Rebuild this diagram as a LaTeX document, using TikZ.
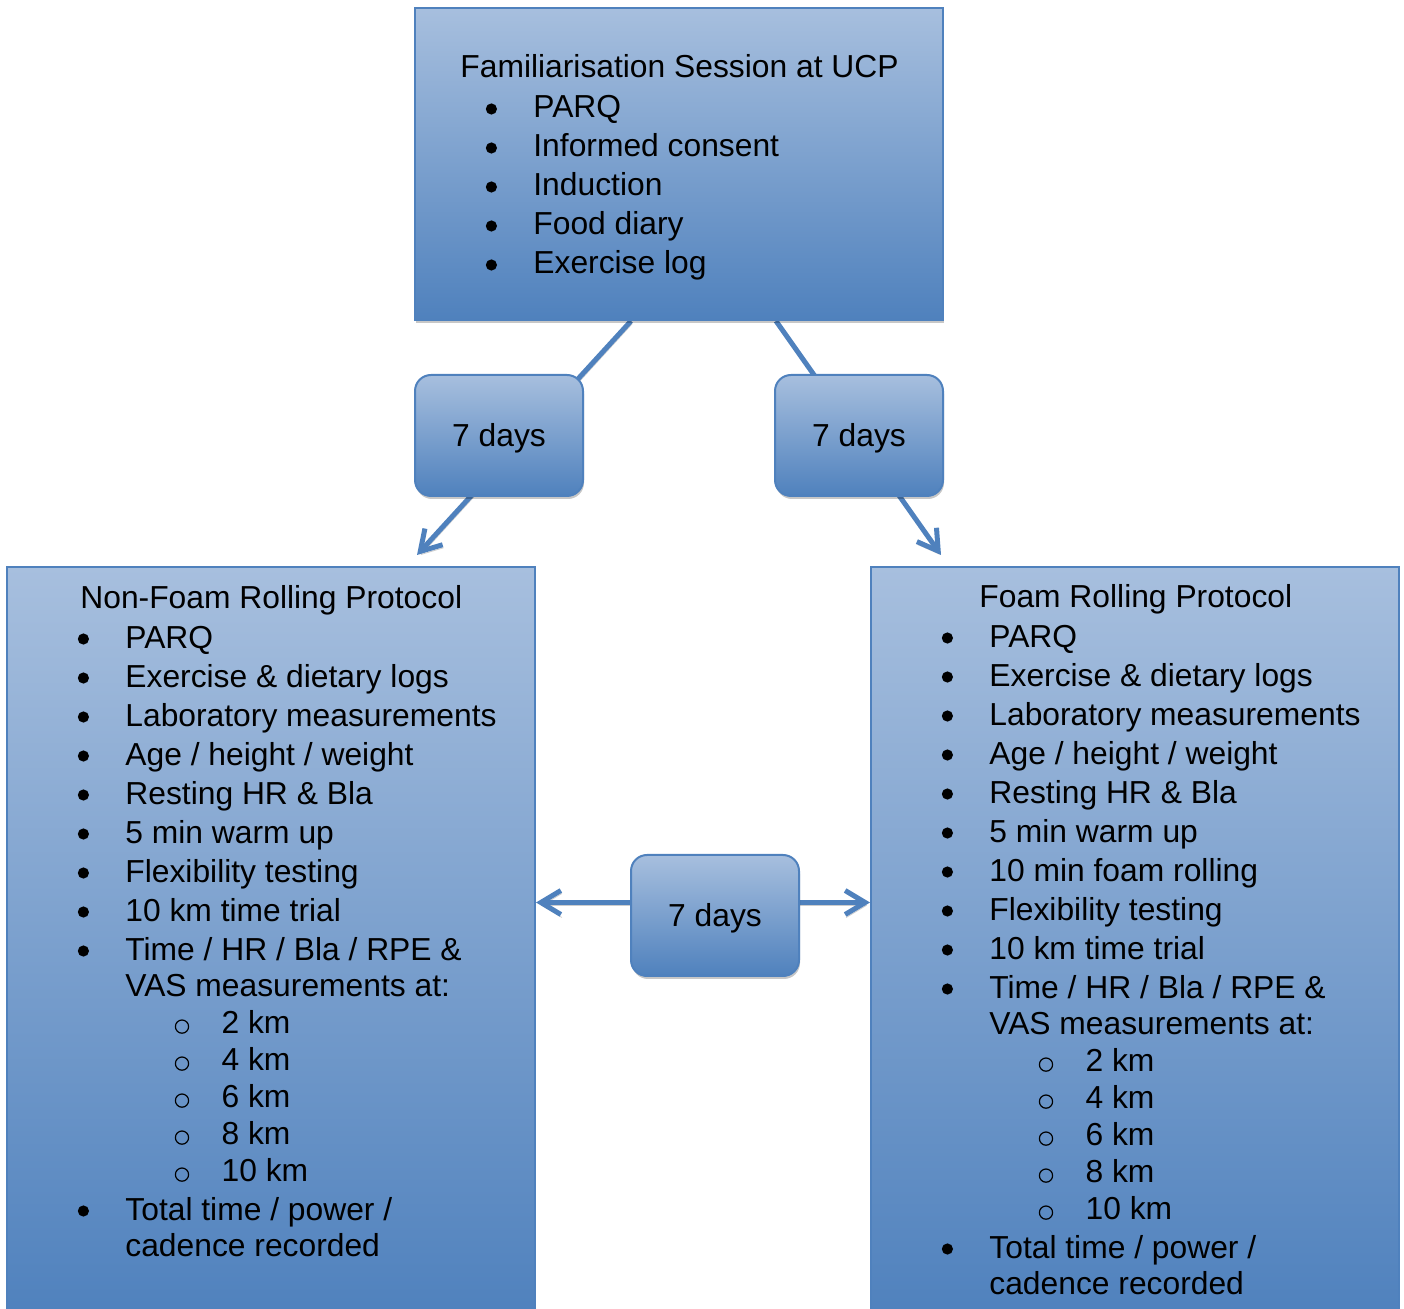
\documentclass[tikz,border=0pt]{standalone}
\usepackage{fontspec}
\setmainfont{Liberation Sans}
\usetikzlibrary{arrows.meta,calc,shadows,backgrounds}

\definecolor{paleblue}{RGB}{167,191,222}
\definecolor{deepblue}{RGB}{79,129,189}

\newcommand{\bodyfont}{\fontsize{15.9}{19.5}\selectfont}
\newcommand{\dotmark}{\llap{\tikz[baseline=0pt]\fill (0pt,4.5pt) circle (2.8pt);\hspace*{18.2pt}}}
\newcommand{\ringmark}{\hspace*{24.7pt}\tikz[baseline=0pt]\draw[line width=0.6pt] (0pt,3.2pt) circle (3.3pt);\hspace*{16.2pt}}

\begin{document}
\begin{tikzpicture}[
			x=0.5pt, y=-0.5pt,
			softshadow/.style={drop shadow={shadow xshift=0.5pt, shadow yshift=-1.5pt, opacity=0.22, fill=black}},
			panel/.style={rectangle, draw=deepblue, line width=1pt, top color=paleblue, bottom color=deepblue, inner sep=0pt, softshadow},
			gapbox/.style={panel, rounded corners=8pt, minimum width=84pt, minimum height=60.5pt, text height=11.4pt, text depth=0pt, font=\bodyfont},
			txt/.style={inner sep=0pt, anchor=base west, align=left, font=\bodyfont},
			link/.style={line width=2.5pt, draw=deepblue, preaction={draw=black!20, transform canvas={shift={(0.5pt,-1.5pt)}}}},
			>={Straight Barb[length=10pt,width=12pt]}
		]
		\useasboundingbox (0,0) rectangle (1404,1309);

		% Familiarisation session (lists are placed by their last line)
		\node[panel, minimum width=264pt, minimum height=156pt] (fam) at (679,164) {};
		\node[txt] (famtitle) at (460,78) {Familiarisation Session at UCP};
		\node[txt] (famlist) at (533,274) {\dotmark PARQ\\
			\dotmark Informed consent\\
			\dotmark Induction\\
			\dotmark Food diary\\
			\dotmark Exercise log};

		% Rest periods
		\node[gapbox] (gapL) at (499,435.5) {7 days};
		\node[gapbox] (gapR) at (859,435.5) {7 days};
		\node[gapbox] (gapM) at (715,915.5) {7 days};

		% Non-foam rolling protocol
		\node[panel, minimum width=264pt, minimum height=376pt] (nofoam) at (271,943) {};
		\node[txt] (nofoamtitle) at (80,609) {Non-Foam Rolling Protocol};
		\node[txt] (nofoamlist) at (125,1256) {\dotmark PARQ\\
			\dotmark Exercise \& dietary logs\\
			\dotmark Laboratory measurements\\
			\dotmark Age / height / weight\\
			\dotmark Resting HR \& Bla\\
			\dotmark 5 min warm up\\
			\dotmark Flexibility testing\\
			\dotmark 10 km time trial\\
			\dotmark Time / HR / Bla / RPE \&\\[-1.5pt]
			VAS measurements at:\\[-1pt]
			\ringmark 2 km\\[-1pt]
			\ringmark 4 km\\[-1pt]
			\ringmark 6 km\\[-1pt]
			\ringmark 8 km\\[-1pt]
			\ringmark 10 km\\
			\dotmark Total time / power /\\[-1.5pt]
			cadence recorded};

		% Foam rolling protocol
		\node[panel, minimum width=264pt, minimum height=376pt] (foam) at (1135,943) {};
		\node[txt] (foamtitle) at (979,608) {Foam Rolling Protocol};
		\node[txt] (foamlist) at (989,1294) {\dotmark PARQ\\
			\dotmark Exercise \& dietary logs\\
			\dotmark Laboratory measurements\\
			\dotmark Age / height / weight\\
			\dotmark Resting HR \& Bla\\
			\dotmark 5 min warm up\\
			\dotmark 10 min foam rolling\\
			\dotmark Flexibility testing\\
			\dotmark 10 km time trial\\
			\dotmark Time / HR / Bla / RPE \&\\[-1.5pt]
			VAS measurements at:\\[-1pt]
			\ringmark 2 km\\[-1pt]
			\ringmark 4 km\\[-1pt]
			\ringmark 6 km\\[-1pt]
			\ringmark 8 km\\[-1pt]
			\ringmark 10 km\\
			\dotmark Total time / power /\\[-1.5pt]
			cadence recorded};

		% Connectors
		\coordinate (midline) at ($(gapM.center)+(0,-13)$);
		\begin{scope}[on background layer]
			\draw[link, ->] ($(fam.south)+(-48,0)$) -- ($(nofoam.north)+(146,-11)$);
			\draw[link, ->] ($(fam.south)+(97,0)$) -- ($(foam.north)+(-194,-11)$);
			\draw[link, <->] (nofoam.east |- midline) -- (foam.west |- midline);
		\end{scope}

	\end{tikzpicture}
\end{document}
